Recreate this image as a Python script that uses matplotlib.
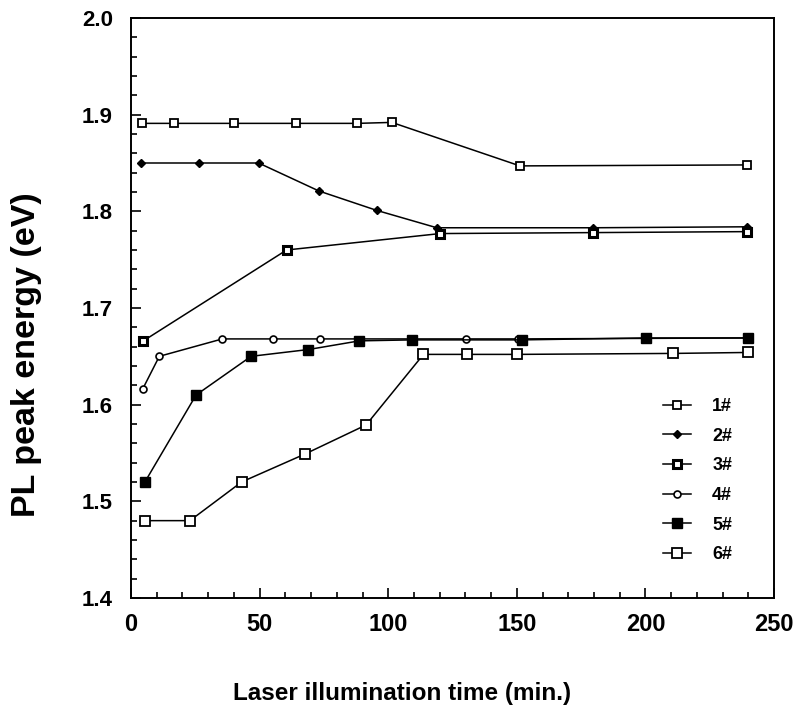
import numpy as np
import matplotlib
matplotlib.use("Agg")
import matplotlib.pyplot as plt
from matplotlib.ticker import MultipleLocator, FormatStrFormatter

plt.rcParams['font.family'] = ['Liberation Sans', 'DejaVu Sans']
plt.rcParams['font.weight'] = 'bold'

# ==== PL peak energy vs laser illumination time, samples 1# - 6# ====
t1 = [4.4, 16.8, 40.1, 64.1, 88.0, 101.4, 151.2, 239.4]
e1 = [1.891, 1.891, 1.891, 1.891, 1.891, 1.892, 1.847, 1.848]

t2 = [3.8, 26.4, 49.6, 73.1, 95.5, 118.9, 179.7, 239.4]
e2 = [1.850, 1.850, 1.850, 1.821, 1.801, 1.783, 1.783, 1.784]

t3 = [4.8, 60.5, 120.2, 179.7, 239.4]
e3 = [1.666, 1.760, 1.777, 1.778, 1.779]

t4 = [4.5, 11.0, 35.5, 55.3, 73.5, 130.1, 150.5, 239.4]
e4 = [1.616, 1.650, 1.668, 1.668, 1.668, 1.668, 1.668, 1.669]

t5 = [5.4, 25.3, 46.7, 68.9, 88.8, 109.1, 151.9, 200.1, 240.0]
e5 = [1.520, 1.610, 1.650, 1.657, 1.666, 1.667, 1.667, 1.669, 1.669]

t6 = [5.4, 22.9, 43.0, 67.7, 91.4, 113.7, 130.5, 150.2, 210.9, 240.0]
e6 = [1.480, 1.480, 1.520, 1.549, 1.579, 1.652, 1.652, 1.652, 1.653, 1.654]

labels = ["1#", "2#", "3#", "4#", "5#", "6#"]

fig = plt.figure(figsize=(7.96, 7.09), dpi=100)
ax = fig.add_axes([0.1646, 0.1566, 0.9724 - 0.1646, 0.9746 - 0.1566])

lw = 1.1
ax.plot(t1, e1, color='black', lw=lw, marker='s', ms=5.5, mfc='white',
        mec='black', mew=1.3, label=labels[0])
ax.plot(t2, e2, color='black', lw=lw, marker='D', ms=4.5, mfc='black',
        mec='black', label=labels[1])
ax.plot(t3, e3, color='black', lw=lw, marker='s', ms=6, mfc='white',
        mec='black', mew=2.2, label=labels[2])
ax.plot(t4, e4, color='black', lw=lw, marker='o', ms=5, mfc='white',
        mec='black', mew=1.2, label=labels[3])
ax.plot(t5, e5, color='black', lw=lw, marker='s', ms=6.5, mfc='black',
        mec='black', label=labels[4])
ax.plot(t6, e6, color='black', lw=lw, marker='s', ms=7, mfc='white',
        mec='black', mew=1.3, label=labels[5])

ax.set_xlim(0, 250)
ax.set_ylim(1.4, 2.0)
ax.xaxis.set_major_locator(MultipleLocator(50))
ax.xaxis.set_minor_locator(MultipleLocator(10))
ax.yaxis.set_major_locator(MultipleLocator(0.1))
ax.yaxis.set_minor_locator(MultipleLocator(0.02))
ax.yaxis.set_major_formatter(FormatStrFormatter('%.1f'))

ax.tick_params(which='both', direction='in', top=False, right=False,
               width=1.2)
ax.tick_params(which='major', length=7)
ax.tick_params(which='minor', length=4)
ax.tick_params(axis='x', labelsize=17, pad=11)
ax.tick_params(axis='y', labelsize=16, pad=13)
for s in ax.spines.values():
    s.set_linewidth(1.4)

ax.set_xlabel("Laser illumination time (min.)", fontsize=17.5,
              fontweight='bold')
ax.xaxis.set_label_coords(0.421, -0.145)
ax.set_ylabel("PL peak energy (eV)", fontsize=24.5, fontweight='bold')
ax.yaxis.set_label_coords(-0.138, 0.419)

leg = ax.legend(loc='lower right', bbox_to_anchor=(0.96, 0.032),
                frameon=False, fontsize=13, handlelength=1.5,
                handletextpad=1.2, labelspacing=0.7)

fig.savefig("out.png", dpi=100)
